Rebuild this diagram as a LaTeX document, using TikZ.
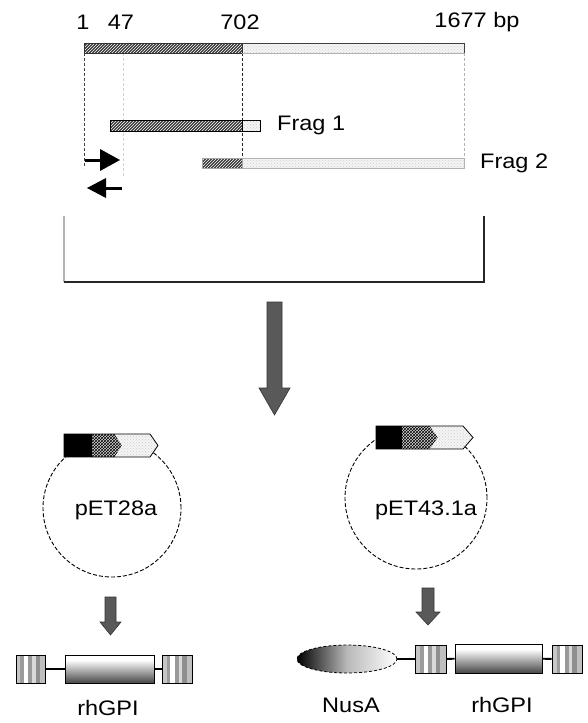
\documentclass[tikz,border=0pt]{standalone}
\usepackage{fontspec}
\setmainfont{Liberation Sans}[FakeStretch=1.12]
\usetikzlibrary{patterns,shapes.geometric,calc}
\pgfdeclareverticalshading{cylshade}{100bp}{color(0bp)=(black); color(15bp)=(black!90); color(66bp)=(white); color(84bp)=(white); color(100bp)=(gray!45)}
\tikzset{
  lbl/.style={font=\fontsize{21}{24}\selectfont, inner sep=0pt},
  darkbar/.style={fill=black!78, postaction={pattern=north east lines, pattern color=white}},
  lightbar/.style={fill=gray!8, postaction={pattern=crosshatch dots, pattern color=gray!40}},
  hatchcas/.style={fill=gray!30, postaction={pattern=crosshatch, pattern color=black}},
  guide/.style={dash pattern=on 3pt off 2pt, line width=0.8pt},
  blockarrow/.style={fill=black!65, draw=black!80, line width=0.6pt},
  primer/.style={fill=black},
  plasmid/.style={dash pattern=on 4pt off 2pt, line width=0.9pt},
  stripebox/.style={draw=black, line width=0.8pt, minimum width=30pt, minimum height=28pt, inner sep=0pt,
    path picture={
      \foreach \sa/\sb/\sc in {0/0.15/gray!45, 0.15/0.28/gray!78, 0.28/0.42/white, 0.42/0.55/gray!80, 0.55/0.68/gray!30, 0.68/0.82/gray!88, 0.82/1/gray!50}
        \fill[\sc] ($(path picture bounding box.south west)!\sa!(path picture bounding box.south east)$) rectangle ($(path picture bounding box.north west)!\sb!(path picture bounding box.north east)$);
    }},
  cylbox/.style={shading=cylshade, draw=black, line width=0.8pt, minimum height=28pt, inner sep=0pt},
  linker/.style={line width=1.8pt},
}
\begin{document}
\begin{tikzpicture}[x=1pt,y=-1pt]
\useasboundingbox (0,0) rectangle (588,723);

% ---- labels at top ----
\node[lbl] (t1) at (83,22) {1};
\node[lbl] (t47) at (121,22) {47};
\node[lbl] (t702) at (240,22) {702};
\node[lbl] (t1677) at (477,22) {1677 bp};

% ---- guide lines ----
\draw[guide, black!75] (84,43) -- (84,168);
\draw[guide, gray!35] (123,53) -- (123,176);
\draw[guide, black!85] (242,43) -- (242,168);
\draw[guide, gray!60] (464,53) -- (464,162);

% ---- full-length bar ----
\path[darkbar] (84,43) rectangle (242,53);
\path[lightbar] (242,43) rectangle (464,53);
\draw[black!80, line width=0.8pt] (84,43) rectangle (242,53);
\draw[gray!60, line width=0.8pt] (242,53) -- (464,53);
\draw[black!75, line width=0.9pt] (242,43) -- (464,43) -- (464,53);

% ---- Frag 1 ----
\path[darkbar] (110,120) rectangle (242,131);
\draw[black, line width=0.8pt] (110,120) rectangle (260,131);
\path[lightbar] (242.5,120.5) rectangle (259.5,130.5);
\draw[black, line width=0.8pt] (242,120) -- (242,131);
\node[lbl, anchor=west] (f1) at (277,125) {Frag 1};

% ---- Frag 2 ----
\path[darkbar] (202,158) rectangle (242,168);
\path[lightbar] (242,158) rectangle (464,168);
\draw[gray!60, line width=0.8pt] (242,158) rectangle (464,168);
\draw[gray!70, line width=0.8pt] (202,158) rectangle (242,168);
\node[lbl, anchor=west] (f2) at (480,163) {Frag 2};

% ---- primers ----
\fill[primer] (85,158.5) rectangle (102,161.5);
\fill[primer] (100,149) -- (120,160) -- (100,171) -- cycle;
\fill[primer] (104,186.5) rectangle (122,189.5);
\fill[primer] (106,178) -- (87,188) -- (106,198) -- cycle;

% ---- bracket ----
\draw[gray!60, line width=1.2pt] (64,216) -- (64,282);
\draw[black!85, line width=1.2pt] (64,282) -- (484,282) -- (484,216);

% ---- big arrow ----
\draw[blockarrow] (267,302) -- (282,302) -- (282,388) -- (290,388) -- (274.5,415) -- (259,388) -- (267,388) -- cycle;

% ---- left plasmid ----
\draw[plasmid] (112,508) circle[radius=69pt];
\fill[black] (64,434) rectangle (92,457);
\path[hatchcas] (92,434) -- (115,434) -- (122,445.5) -- (115,457) -- (92,457) -- cycle;
\path[lightbar] (115,434) -- (150,434) -- (158,445.5) -- (150,457) -- (115,457) -- (122,445.5) -- cycle;
\draw[black, line width=0.8pt] (64,434) -- (150,434) -- (158,445.5) -- (150,457) -- (64,457) -- cycle;
\node[lbl] (p28) at (116,510) {pET28a};

% ---- right plasmid ----
\draw[plasmid] (416,498) circle[radius=71pt];
\fill[black] (376,426) rectangle (402,449);
\path[hatchcas] (402,426) -- (430,426) -- (438,437.5) -- (430,449) -- (402,449) -- cycle;
\path[lightbar] (430,426) -- (463,426) -- (473,437.5) -- (463,449) -- (430,449) -- (438,437.5) -- cycle;
\draw[black, line width=0.8pt] (376,426) -- (463,426) -- (473,437.5) -- (463,449) -- (376,449) -- cycle;
\node[lbl] (p43) at (426,510) {pET43.1a};

% ---- small arrows ----
\draw[blockarrow] (105,597) -- (116,597) -- (116,622) -- (121,622) -- (110.5,635) -- (100,622) -- (105,622) -- cycle;
\draw[blockarrow] (422,588) -- (434,588) -- (434,612) -- (440,612) -- (428,625) -- (416,612) -- (422,612) -- cycle;

% ---- left construct ----
\node[stripebox, minimum width=29pt] (L1) at (30.5,669) {};
\node[cylbox, minimum width=89pt] (L2) at (109.5,669) {};
\node[stripebox] (L3) at (177,669) {};
\draw[linker] (L1) -- (L2);
\draw[linker] (L2) -- (L3);
\node[lbl] (lg) at (108,708) {rhGPI};

% ---- right construct ----
\node[ellipse, shade, left color=black, right color=white, middle color=gray!55, draw=black, dash pattern=on 3pt off 2pt, line width=0.8pt, minimum width=100pt, minimum height=28pt, inner sep=0pt] (N) at (347,659) {};
\node[stripebox, minimum width=31pt] (R1) at (430.5,659) {};
\node[cylbox, minimum width=87pt, minimum height=29pt] (R2) at (498.5,658.5) {};
\node[stripebox] (R3) at (567,659) {};
\draw[linker] (N) -- (R1);
\draw[linker] (R1) -- (R2);
\draw[linker] (R2) -- (R3);
\node[lbl] (nl) at (351,705) {NusA};
\node[lbl] (rg) at (502,705) {rhGPI};
\end{tikzpicture}
\end{document}
